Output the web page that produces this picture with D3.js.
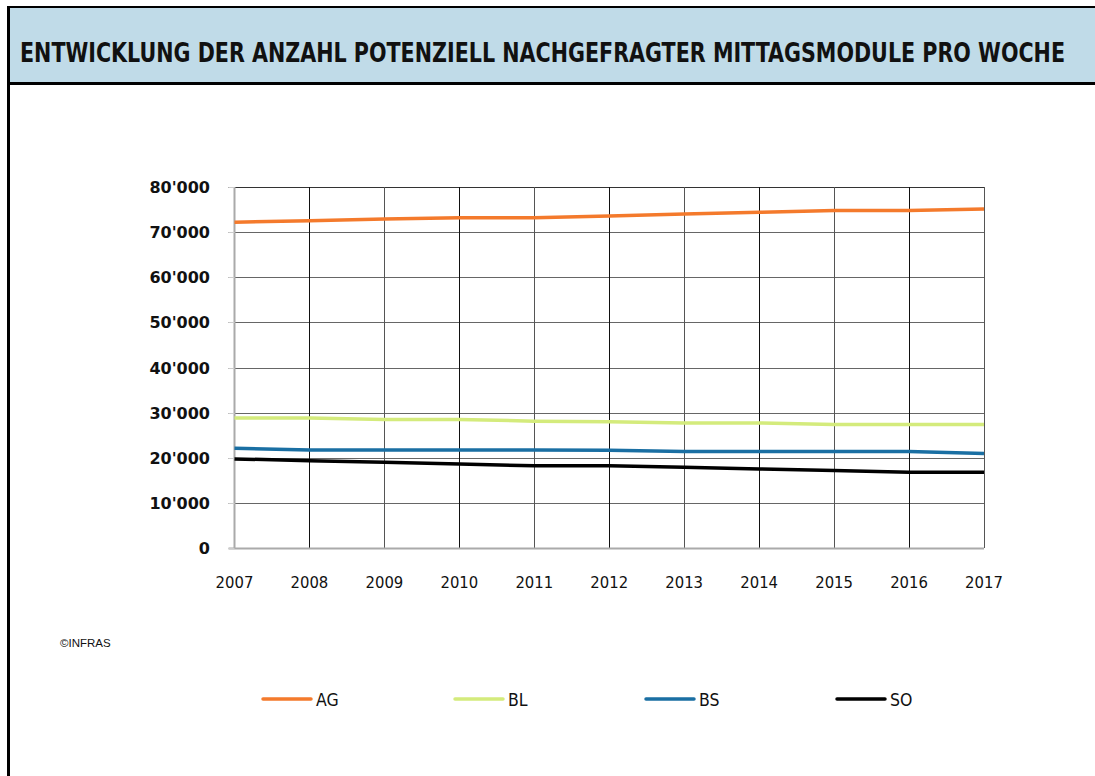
<!DOCTYPE html>
<html>
<head>
<meta charset="utf-8">
<script src="https://cdn.jsdelivr.net/npm/d3@7"></script>
<style>
  body { margin: 0; background: #fff; }
  svg { display: block; }
</style>
</head>
<body>
<script>
// chart data
var years = [2007, 2008, 2009, 2010, 2011, 2012, 2013, 2014, 2015, 2016, 2017];
var seriesNames = ["AG", "BL", "BS", "SO"];
var seriesColors = ["#f47a2c", "#d4eb7c", "#1a6fa3", "#000000"];
var agValues = [72200, 72500, 72900, 73200, 73200, 73600, 74000, 74400, 74800, 74800, 75100];
var blValues = [28800, 28800, 28500, 28500, 28100, 28000, 27700, 27700, 27350, 27350, 27350];
var bsValues = [22100, 21700, 21700, 21700, 21700, 21650, 21400, 21400, 21400, 21400, 20950];
var soValues = [19750, 19350, 18980, 18620, 18200, 18250, 17880, 17500, 17200, 16770, 16770];
var yTicks = [0, 10000, 20000, 30000, 40000, 50000, 60000, 70000, 80000];

var W = 1095, H = 776;
var svg = d3.select("body").append("svg")
    .attr("width", W)
    .attr("height", H);

// frame + header band
svg.append("rect").attr("x", 0).attr("y", 0).attr("width", W).attr("height", H).attr("fill", "#fff");
svg.append("rect").attr("x", 9).attr("y", 7).attr("width", W - 9).attr("height", 76).attr("fill", "#c0dbe8");
svg.append("line").attr("x1", 7).attr("x2", W).attr("y1", 7).attr("y2", 7).attr("stroke", "#000").attr("stroke-width", 2);
svg.append("line").attr("x1", 7).attr("x2", W).attr("y1", 83.5).attr("y2", 83.5).attr("stroke", "#000").attr("stroke-width", 3);
svg.append("line").attr("x1", 8.5).attr("x2", 8.5).attr("y1", 6).attr("y2", H).attr("stroke", "#000").attr("stroke-width", 3);

// title: smaller font stretched vertically so it stays narrow and tall
svg.append("text")
    .attr("transform", "translate(20,62) scale(1,1.2)")
    .attr("font-family", "DejaVu Sans Condensed, DejaVu Sans")
    .attr("font-weight", "bold")
    .attr("font-size", 22)
    .attr("textLength", 1045)
    .attr("lengthAdjust", "spacingAndGlyphs")
    .attr("fill", "#111")
    .text("ENTWICKLUNG DER ANZAHL POTENZIELL NACHGEFRAGTER MITTAGSMODULE PRO WOCHE");

// plot area
var plotLeft = 234.5, plotRight = 984, plotTop = 187, plotBottom = 548;
var x = d3.scalePoint().domain(years).range([plotLeft, plotRight]);
var y = d3.scaleLinear().domain([0, 80000]).range([plotBottom, plotTop]);

var g = svg.append("g");

// horizontal grid
g.selectAll(".hgrid")
    .data(yTicks.filter(function(d) { return d > 0; }))
    .enter().append("line")
    .attr("x1", plotLeft - 6).attr("x2", plotRight)
    .attr("y1", function(d) { return Math.round(y(d)) + 0.5; })
    .attr("y2", function(d) { return Math.round(y(d)) + 0.5; })
    .attr("stroke", function(d) { return d === 80000 ? "#333" : "#666"; })
    .attr("stroke-width", 1);

// vertical grid
g.selectAll(".vgrid")
    .data(years.slice(1))
    .enter().append("line")
    .attr("x1", function(d) { return Math.round(x(d)) + 0.5; })
    .attr("x2", function(d) { return Math.round(x(d)) + 0.5; })
    .attr("y1", plotTop).attr("y2", plotBottom)
    .attr("stroke", function(d, i) { return i % 2 === 0 ? "#111" : "#555"; })
    .attr("stroke-width", 1);

// axes lines
g.append("line").attr("x1", plotLeft - 6).attr("x2", plotRight).attr("y1", plotBottom + 0.5).attr("y2", plotBottom + 0.5)
    .attr("stroke", "#aaa").attr("stroke-width", 2);
g.append("line").attr("x1", plotLeft).attr("x2", plotLeft).attr("y1", plotTop).attr("y2", plotBottom + 1)
    .attr("stroke", "#aaa").attr("stroke-width", 2);
g.selectAll(".ytick")
    .data(yTicks)
    .enter().append("line")
    .attr("x1", plotLeft - 6).attr("x2", plotLeft)
    .attr("y1", function(d) { return Math.round(y(d)) + 0.5; })
    .attr("y2", function(d) { return Math.round(y(d)) + 0.5; })
    .attr("stroke", "#ccc");

// y labels
var fmt = function(d) { return d === 0 ? "0" : (d / 1000) + "'000"; };
g.selectAll(".ylab")
    .data(yTicks)
    .enter().append("text")
    .attr("x", 210)
    .attr("y", function(d) { return y(d) + 6; })
    .attr("text-anchor", "end")
    .attr("font-family", "DejaVu Sans")
    .attr("font-weight", "bold")
    .attr("font-size", 16)
    .attr("fill", "#111")
    .text(fmt);

// x labels
g.selectAll(".xlab")
    .data(years)
    .enter().append("text")
    .attr("x", function(d) { return x(d); })
    .attr("y", 588)
    .attr("text-anchor", "middle")
    .attr("font-family", "DejaVu Sans Condensed, DejaVu Sans")
    .attr("font-size", 16.5)
    .attr("fill", "#111")
    .text(function(d) { return d; });

// series
var allValues = [agValues, blValues, bsValues, soValues];
var line = d3.line()
    .x(function(d, i) { return x(years[i]); })
    .y(function(d) { return y(d); });

g.selectAll(".series")
    .data(allValues)
    .enter().append("path")
    .attr("d", line)
    .attr("fill", "none")
    .attr("stroke", function(d, i) { return seriesColors[i]; })
    .attr("stroke-width", 3.5)
    .attr("stroke-linejoin", "round");

// copyright
svg.append("text")
    .attr("x", 60).attr("y", 647)
    .attr("font-family", "Liberation Sans, Arial")
    .attr("font-size", 11.5)
    .attr("fill", "#111")
    .text("\u00A9INFRAS");

// legend
var legX = [263, 455, 646, 837];
var legend = svg.selectAll(".leg")
    .data(seriesNames)
    .enter().append("g")
    .attr("transform", function(d, i) { return "translate(" + legX[i] + ",699)"; });
legend.append("line")
    .attr("x1", 0).attr("x2", 48)
    .attr("y1", 0).attr("y2", 0)
    .attr("stroke", function(d, i) { return seriesColors[i]; })
    .attr("stroke-width", 3.5)
    .attr("stroke-linecap", "round");
legend.append("text")
    .attr("x", 53).attr("y", 7)
    .attr("font-family", "DejaVu Sans Condensed, DejaVu Sans")
    .attr("font-size", 17.5)
    .attr("fill", "#111")
    .text(function(d) { return d; });
</script>
</body>
</html>
